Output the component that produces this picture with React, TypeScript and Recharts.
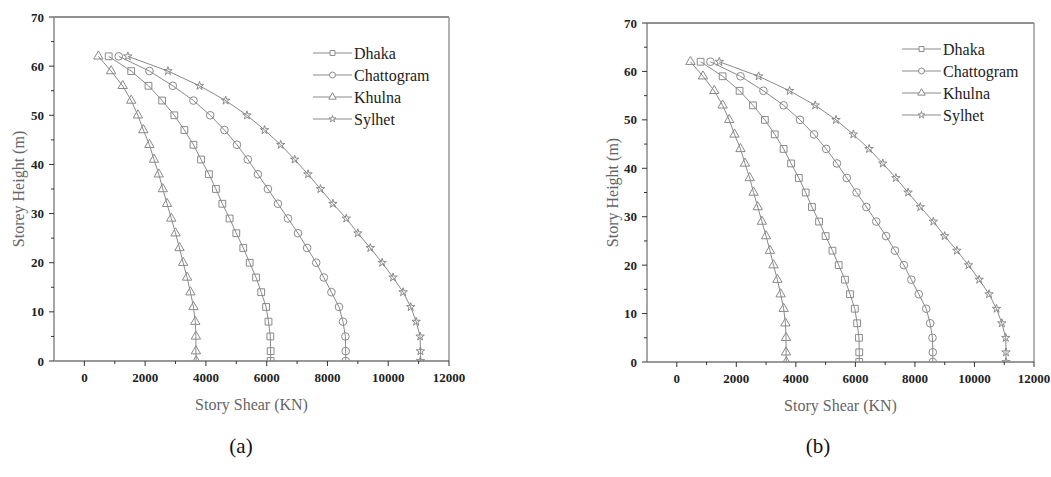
import React from 'react';
import { ScatterChart, Scatter, XAxis, YAxis, Legend, ReferenceLine, Symbols, Label } from 'recharts';

const heights = [0, 2, 5, 8, 11, 14, 17, 20, 23, 26, 29, 32, 35, 38, 41, 44, 47, 50, 53, 56, 59, 62];
const dhaka = [6130, 6130, 6120, 6060, 5980, 5820, 5650, 5440, 5230, 5000, 4780, 4540, 4330, 4100, 3840, 3590, 3290, 2960, 2560, 2110, 1540, 800];
const chattogram = [8600, 8600, 8590, 8510, 8380, 8130, 7880, 7630, 7330, 7030, 6700, 6370, 6040, 5710, 5380, 5020, 4610, 4140, 3590, 2910, 2140, 1130];
const khulna = [3680, 3670, 3670, 3650, 3590, 3490, 3380, 3250, 3130, 3000, 2860, 2720, 2580, 2450, 2290, 2140, 1940, 1760, 1540, 1260, 880, 460];
const sylhet = [11060, 11060, 11050, 10920, 10740, 10490, 10160, 9800, 9410, 9000, 8620, 8180, 7770, 7360, 6920, 6460, 5930, 5350, 4650, 3790, 2750, 1430];

const seriesNames = ['Dhaka', 'Chattogram', 'Khulna', 'Sylhet'];
const seriesValues = [dhaka, chattogram, khulna, sylhet];
const seriesShapes = ['square', 'circle', 'triangle', 'star'];

const xTicks = [0, 1000, 2000, 3000, 4000, 5000, 6000, 7000, 8000, 9000, 10000, 11000, 12000];
const yTicks = [0, 5, 10, 15, 20, 25, 30, 35, 40, 45, 50, 55, 60, 65, 70];

const FONT = '"Liberation Serif", "Times New Roman", serif';
const LINE = '#8a8a8a';
const symbolSize: Record<string, number> = { square: 46, circle: 46, triangle: 38, star: 22 };
const legendSymbolSize: Record<string, number> = { square: 24, circle: 28, triangle: 24, star: 14 };

const toRows = (vals: number[]) => heights.map((h, i) => ({ x: vals[i], y: h }));

const tickStyle = { fontFamily: FONT, fontSize: 13, fontWeight: 700 as const, fill: '#222' };
const titleStyle = { fontFamily: FONT, fontSize: 16, fill: '#666' };

const XTick = (props: any) => {
  const { x, y, payload } = props;
  const v = payload.value;
  const major = v % 2000 === 0;
  return (
    <g>
      <line x1={x} x2={x} y1={y} y2={y + (major ? 5 : 3)} stroke="#333" strokeWidth={1} />
      {major && (
        <text x={x} y={y + 21} textAnchor="middle" style={tickStyle}>
          {v}
        </text>
      )}
    </g>
  );
};

const YTick = (props: any) => {
  const { x, y, payload } = props;
  const v = payload.value;
  const major = v % 10 === 0;
  return (
    <g>
      <line x1={x - (major ? 5 : 3)} x2={x} y1={y} y2={y} stroke="#333" strokeWidth={1} />
      {major && (
        <text x={x - 10} y={y} dy="0.35em" textAnchor="end" style={tickStyle}>
          {v}
        </text>
      )}
    </g>
  );
};

const makeShape = (type: string) => (props: any) => (
  <Symbols cx={props.cx} cy={props.cy} type={type as any} size={symbolSize[type]} fill="none" stroke={LINE} strokeWidth={1} />
);

const renderLegend = () => (
  <svg width={140} height={96} style={{ overflow: 'visible' }}>
    {seriesNames.map((n, i) => (
      <g key={n} transform={`translate(0, ${10 + i * 22})`}>
        <line x1={0} x2={39} y1={0} y2={0} stroke={LINE} strokeWidth={1} />
        <Symbols cx={19.5} cy={0} type={seriesShapes[i] as any} size={legendSymbolSize[seriesShapes[i]]} fill="#fff" stroke={LINE} strokeWidth={1} />
        <text x={41} y={0} dy="0.35em" style={{ fontFamily: FONT, fontSize: 16, fill: '#222' }}>
          {n}
        </text>
      </g>
    ))}
  </svg>
);

type PanelProps = {
  left: number;
  width: number;
  margin: { top: number; right: number; bottom: number; left: number };
  yTitle: string;
  legendLeft: number;
  legendTop: number;
  yTitleX: number;
};

const Panel = ({ left, width, margin, yTitle, legendLeft, legendTop, yTitleX }: PanelProps) => (
  <div style={{ position: 'absolute', left, top: 0, fontFamily: FONT }}>
    <ScatterChart width={width} height={425} margin={margin} style={{ fontFamily: FONT }}>
      <XAxis
        type="number"
        dataKey="x"
        domain={[-1000, 12000]}
        ticks={xTicks}
        interval={0}
        tickSize={0}
        tickMargin={0}
        tickLine={false}
        tick={<XTick />}
        height={55}
        axisLine={{ stroke: '#333', strokeWidth: 1 }}
        allowDataOverflow
      >
        <Label
          content={(p: any) => {
            const vb = p.viewBox || { x: 54, y: 361, width: 395, height: 55 };
            return (
              <text x={vb.x + vb.width / 2} y={vb.y + 49} textAnchor="middle" style={titleStyle}>
                Story Shear (KN)
              </text>
            );
          }}
        />
      </XAxis>
      <YAxis
        type="number"
        dataKey="y"
        domain={[0, 70]}
        ticks={yTicks}
        interval={0}
        tickSize={0}
        tickMargin={0}
        tickLine={false}
        tick={<YTick />}
        width={54}
        axisLine={{ stroke: '#888', strokeWidth: 1.5 }}
        allowDataOverflow
      >
        <Label
          content={(p: any) => {
            const vb = p.viewBox || { x: 0, y: 17, width: 54, height: 344 };
            const cy = vb.y + vb.height / 2;
            return (
              <text
                transform={`translate(${vb.x + yTitleX}, ${cy}) rotate(-90)`}
                textAnchor="middle"
                dy="0.35em"
                style={titleStyle}
              >
                {yTitle}
              </text>
            );
          }}
        />
      </YAxis>
      <ReferenceLine y={70} stroke="#222" strokeWidth={1} />
      <ReferenceLine x={12000} stroke="#999" strokeWidth={1.5} />
      {seriesNames.map((n, i) => (
        <Scatter
          key={n}
          name={n}
          data={toRows(seriesValues[i])}
          line={{ stroke: LINE, strokeWidth: 1 }}
          lineType="joint"
          shape={makeShape(seriesShapes[i])}
          isAnimationActive={false}
        />
      ))}
      <Legend
        layout="horizontal"
        verticalAlign="middle"
        align="center"
        content={renderLegend}
        wrapperStyle={{ left: legendLeft, top: legendTop, width: 140, height: 96 }}
      />
    </ScatterChart>
  </div>
);

export default function App() {
  return (
    <div style={{ position: 'absolute', left: 0, top: 0, width: 1051, height: 477, background: '#fff', overflow: 'hidden', fontFamily: FONT }}>
      <Panel
        left={0}
        width={470}
        margin={{ top: 17, right: 21, bottom: 9, left: 0 }}
        yTitle="Storey Height (m)"
        legendLeft={313}
        legendTop={43}
        yTitleX={18}
      />
      <Panel
        left={593}
        width={458}
        margin={{ top: 23, right: 17, bottom: 8, left: 0 }}
        yTitle="Story Height (m)"
        legendLeft={309}
        legendTop={39}
        yTitleX={19}
      />
      <div style={{ position: 'absolute', left: 221, top: 434, width: 40, textAlign: 'center', fontFamily: FONT, fontSize: 21, color: '#111' }}>(a)</div>
      <div style={{ position: 'absolute', left: 798, top: 434, width: 40, textAlign: 'center', fontFamily: FONT, fontSize: 21, color: '#111' }}>(b)</div>
    </div>
  );
}
